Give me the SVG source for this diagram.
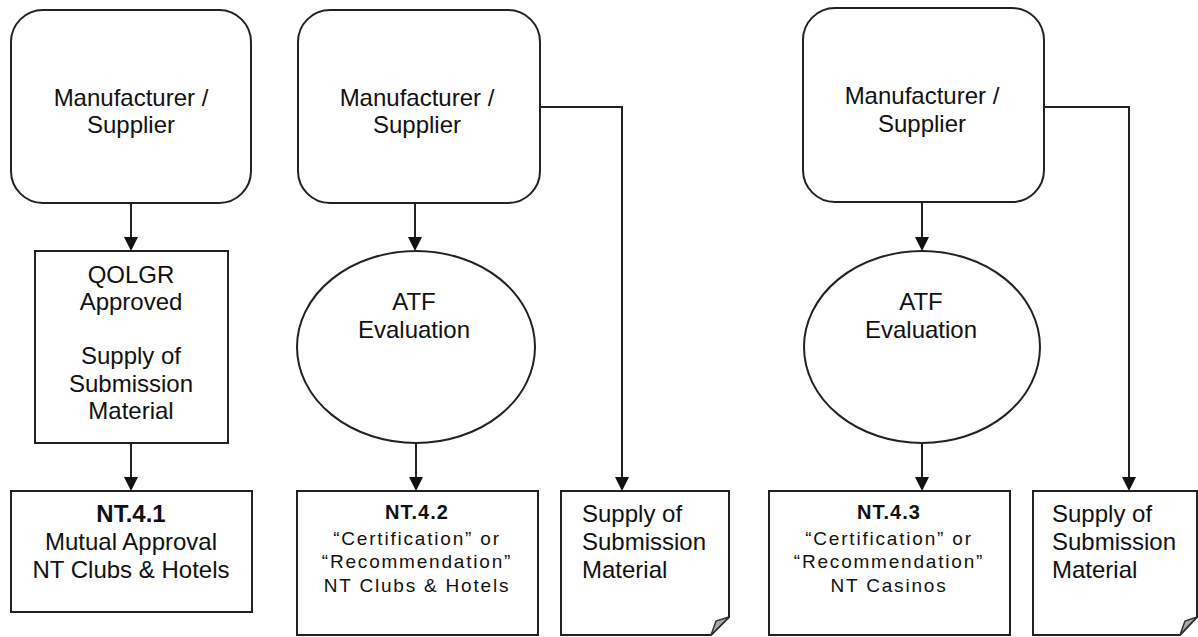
<svg xmlns="http://www.w3.org/2000/svg" width="1198" height="637" viewBox="0 0 1198 637">
<style>
.s{fill:#fff;stroke:#222;stroke-width:2}
.c{fill:none;stroke:#222;stroke-width:2}
.a{fill:#111}
.t{font-family:"Liberation Sans",Arial,sans-serif;font-size:24px;fill:#111}
.m{text-anchor:middle}
.sm{font-size:19px;letter-spacing:1.8px}
.b{font-weight:bold}
.fold{fill:#aaa;stroke:#333;stroke-width:1.5}
</style>
<rect width="1198" height="637" fill="#fff"/>
<g id="connectors">
<path class="c" d="M131,203 V237"/><path class="a" d="M124,237 H138 L131,251 Z"/>
<path class="c" d="M131,443 V477"/><path class="a" d="M124,477 H138 L131,491 Z"/>
<path class="c" d="M415,203 V237"/><path class="a" d="M408,237 H422 L415,251 Z"/>
<path class="c" d="M416,443 V477"/><path class="a" d="M409,477 H423 L416,491 Z"/>
<path class="c" d="M540,107 H622 V477"/><path class="a" d="M615,477 H629 L622,491 Z"/>
<path class="c" d="M922,202 V237"/><path class="a" d="M915,237 H929 L922,251 Z"/>
<path class="c" d="M922,443 V477"/><path class="a" d="M915,477 H929 L922,491 Z"/>
<path class="c" d="M1044,107 H1129 V477"/><path class="a" d="M1122,477 H1136 L1129,491 Z"/>
</g>
<g id="manufacturer1">
<rect class="s" x="11" y="10" width="240" height="193" rx="32"/>
<text class="t m" x="131" y="106">Manufacturer /</text>
<text class="t m" x="131" y="133">Supplier</text>
</g>
<g id="qolgr">
<rect class="s" x="35" y="251" width="193" height="192"/>
<text class="t m" x="131" y="283">QOLGR</text>
<text class="t m" x="131" y="310">Approved</text>
<text class="t m" x="131" y="364">Supply of</text>
<text class="t m" x="131" y="392">Submission</text>
<text class="t m" x="131" y="419">Material</text>
</g>
<g id="nt41">
<rect class="s" x="11" y="491" width="241" height="121"/>
<text class="t m b" x="131" y="522">NT.4.1</text>
<text class="t m" x="131" y="550">Mutual Approval</text>
<text class="t m" x="131" y="578">NT Clubs &amp; Hotels</text>
</g>
<g id="manufacturer2">
<rect class="s" x="298" y="10" width="242" height="193" rx="32"/>
<text class="t m" x="417" y="106">Manufacturer /</text>
<text class="t m" x="417" y="133">Supplier</text>
</g>
<g id="atf2">
<ellipse class="s" cx="416" cy="347" rx="119" ry="96"/>
<text class="t m" x="414" y="310">ATF</text>
<text class="t m" x="414" y="338">Evaluation</text>
</g>
<g id="nt42">
<rect class="s" x="297" y="491" width="241" height="144"/>
<text class="t m b" x="417" y="519" style="font-size:20px;letter-spacing:1px">NT.4.2</text>
<text class="t m sm" x="417" y="545">“Certification” or</text>
<text class="t m sm" x="417" y="568">“Recommendation”</text>
<text class="t m sm" x="417" y="592">NT Clubs &amp; Hotels</text>
</g>
<g id="supply2">
<path class="s" d="M561,491 H729 V617 L711,635 H561 Z"/>
<path class="fold" d="M711,635 L716,621 L729,617 Q720,626 711,635 Z"/>
<text class="t" x="582" y="522">Supply of</text>
<text class="t" x="582" y="550">Submission</text>
<text class="t" x="582" y="578">Material</text>
</g>
<g id="manufacturer3">
<rect class="s" x="803" y="8" width="241" height="194" rx="32"/>
<text class="t m" x="922" y="104">Manufacturer /</text>
<text class="t m" x="922" y="132">Supplier</text>
</g>
<g id="atf3">
<ellipse class="s" cx="922" cy="347" rx="118" ry="96"/>
<text class="t m" x="921" y="310">ATF</text>
<text class="t m" x="921" y="338">Evaluation</text>
</g>
<g id="nt43">
<rect class="s" x="769" y="491" width="241" height="144"/>
<text class="t m b" x="889" y="519" style="font-size:20px;letter-spacing:1px">NT.4.3</text>
<text class="t m sm" x="889" y="545">“Certification” or</text>
<text class="t m sm" x="889" y="568">“Recommendation”</text>
<text class="t m sm" x="889" y="592">NT Casinos</text>
</g>
<g id="supply3">
<path class="s" d="M1033,491 H1197 V617 L1180,635 H1033 Z"/>
<path class="fold" d="M1180,635 L1185,621 L1197,617 Q1188,626 1180,635 Z"/>
<text class="t" x="1052" y="522">Supply of</text>
<text class="t" x="1052" y="550">Submission</text>
<text class="t" x="1052" y="578">Material</text>
</g>
</svg>
